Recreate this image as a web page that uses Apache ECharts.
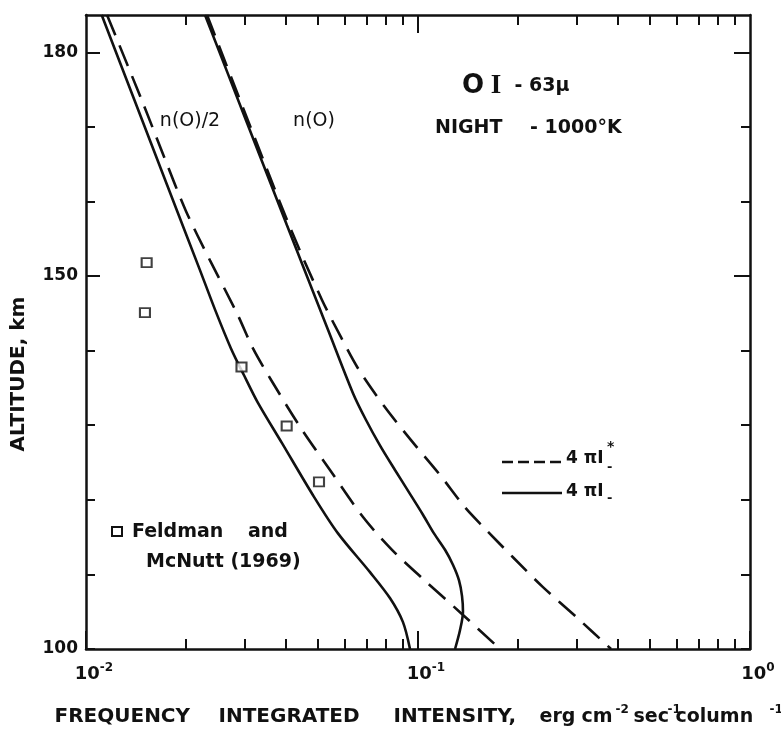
<!DOCTYPE html>
<html><head><meta charset="utf-8">
<script src="https://cdn.jsdelivr.net/npm/echarts@6.0.0/dist/echarts.min.js"></script>
<style>html,body{margin:0;padding:0;background:#fff}#c{width:781px;height:730px}</style>
</head><body><div id="c"></div>
<script>
// ---- data ----
// n(O)/2, solid (4πI-)
const altHalfSolid = [185, 173.6, 162.2, 151.1, 145.4, 140.3, 136.7, 133.0, 127.6, 120.4, 115.5, 110.3, 106.8, 103.6, 100];
const intHalfSolid = [0.01115, 0.01399, 0.01755, 0.02191, 0.02452, 0.02733, 0.02992, 0.03296, 0.03894, 0.04861, 0.05741, 0.07168, 0.0824, 0.0901, 0.09461];
// n(O)/2, dashed (4πI*-)
const altHalfDash = [185, 173.2, 166.0, 158.7, 152.1, 145.0, 140.3, 136.1, 129.8, 124.0, 117.7, 113.3, 109.4, 104.8, 100];
const intHalfDash = [0.01157, 0.01484, 0.01718, 0.02001, 0.02363, 0.02850, 0.03184, 0.03607, 0.04412, 0.05431, 0.06829, 0.0835, 0.1035, 0.1348, 0.1766];
// n(O), solid
const altFullSolid = [185, 170.9, 156.8, 142.8, 134.3, 130.7, 127.3, 124.0, 121.0, 118.0, 115.5, 113.3, 111.3, 109.2, 107.1, 105.0, 102.5, 100];
const intFullSolid = [0.02283, 0.03033, 0.04030, 0.05357, 0.0637, 0.06973, 0.0768, 0.08524, 0.09396, 0.1035, 0.1117, 0.1206, 0.1274, 0.1329, 0.1357, 0.1366, 0.1338, 0.1293];
// n(O), dashed
const altFullDash = [185, 170.5, 156.2, 146.8, 141.8, 137.4, 132.4, 128.0, 123.5, 119.0, 116.4, 112.3, 108.3, 104.2, 100];
const intFullDash = [0.02315, 0.03097, 0.04145, 0.05138, 0.05862, 0.06643, 0.07955, 0.09526, 0.1157, 0.1385, 0.1570, 0.1932, 0.2379, 0.3013, 0.3815];
// Feldman and McNutt (1969)
const obsInt = [0.01523, 0.01505, 0.0294, 0.04022, 0.05033];
const obsAlt = [151.8, 145.1, 137.8, 129.9, 122.4];
// ticks
const yTickValues = [100, 110, 120, 130, 140, 150, 160, 170, 180];
const yLabelValues = [100, 150, 180];
const xMinorTickValues = [0.02, 0.03, 0.04, 0.05, 0.06, 0.07, 0.08, 0.09, 0.2, 0.3, 0.4, 0.5, 0.6, 0.7, 0.8, 0.9];

const INK = '#111';
const FONT = 'DejaVu Sans';
const pairs = (xs, ys) => xs.map((v, i) => [v, ys[i]]);
const logVals = a => a.map(v => Math.log10(v));

const chart = echarts.init(document.getElementById('c'), null, {renderer: 'canvas'});

const lineSeries = (name, xs, ys, dashed) => ({
  name, type: 'line', xAxisIndex: 0, yAxisIndex: 0,
  data: pairs(xs, ys), showSymbol: false, smooth: 0.3, animation: false,
  lineStyle: {color: INK, width: 2.6, type: dashed ? [22, 11] : 'solid'},
  z: 3
});

const hiddenLabel = {show: false};
const noLine = {show: false, onZero: false};
const frameLine = {show: true, onZero: false, lineStyle: {color: INK, width: 2.5}};
const option = {
  backgroundColor: '#fff',
  animation: false,
  grid: {left: 86, right: 31, top: 15, bottom: 81, outerBoundsMode: 'none', containLabel: false},
  xAxis: [
    { // main log axis (bottom)
      type: 'log', logBase: 10, min: 0.01, max: 1, position: 'bottom',
      axisLine: frameLine,
      axisTick: {show: true, inside: true, length: 18, lineStyle: {color: INK, width: 2}},
      splitLine: {show: false},
      axisLabel: {
        margin: 13, padding: [0, 0, 0, 16],
        formatter: v => '{b|10}{s|' + Math.round(Math.log10(v)) + '}',
        rich: {
          b: {fontFamily: FONT, fontSize: 18, fontWeight: 'bold', color: INK, lineHeight: 24},
          s: {fontFamily: FONT, fontSize: 12, fontWeight: 'bold', color: INK, lineHeight: 14, verticalAlign: 'top'}
        }
      },
      name: '{c1|FREQUENCY}{c2|INTEGRATED}{c3|INTENSITY,}{l1|erg}{l2|cm}{s2|-2}{l3|sec}{s1|-1}{l4|column}{s3|-1}',
      nameLocation: 'middle', nameGap: 55,
      nameTextStyle: {
        rich: {
          c1: {fontFamily: FONT, fontSize: 20, fontWeight: 'bold', color: INK, lineHeight: 26, width: 164, align: 'left'},
          c2: {fontFamily: FONT, fontSize: 20, fontWeight: 'bold', color: INK, lineHeight: 26, width: 175, align: 'left'},
          c3: {fontFamily: FONT, fontSize: 20, fontWeight: 'bold', color: INK, lineHeight: 26, width: 146, align: 'left'},
          l1: {fontFamily: FONT, fontSize: 19, fontWeight: 'bold', color: INK, lineHeight: 26, width: 42, align: 'left'},
          l2: {fontFamily: FONT, fontSize: 19, fontWeight: 'bold', color: INK, lineHeight: 26, width: 34, align: 'left'},
          l3: {fontFamily: FONT, fontSize: 19, fontWeight: 'bold', color: INK, lineHeight: 26, width: 34, align: 'left'},
          l4: {fontFamily: FONT, fontSize: 19, fontWeight: 'bold', color: INK, lineHeight: 26, width: 94, align: 'left'},
          s1: {fontFamily: FONT, fontSize: 12, fontWeight: 'bold', color: INK, lineHeight: 14, verticalAlign: 'top', width: 8, align: 'left'},
          s2: {fontFamily: FONT, fontSize: 12, fontWeight: 'bold', color: INK, lineHeight: 14, verticalAlign: 'top', width: 18, align: 'left'},
          s3: {fontFamily: FONT, fontSize: 12, fontWeight: 'bold', color: INK, lineHeight: 14, verticalAlign: 'top', width: 12, align: 'left'}
        }
      }
    },
    { // bottom minor ticks
      type: 'value', min: -2, max: 0, position: 'bottom',
      axisLine: noLine, splitLine: {show: false}, axisLabel: hiddenLabel,
      axisTick: {show: true, inside: true, length: 10, customValues: logVals(xMinorTickValues), lineStyle: {color: INK, width: 2}}
    },
    { // top major tick + frame
      type: 'value', min: -2, max: 0, position: 'top',
      axisLine: frameLine, splitLine: {show: false}, axisLabel: hiddenLabel,
      axisTick: {show: true, inside: true, length: 18, customValues: logVals([0.1]), lineStyle: {color: INK, width: 2}}
    },
    { // top minor ticks
      type: 'value', min: -2, max: 0, position: 'top',
      axisLine: noLine, splitLine: {show: false}, axisLabel: hiddenLabel,
      axisTick: {show: true, inside: true, length: 10, customValues: logVals(xMinorTickValues), lineStyle: {color: INK, width: 2}}
    }
  ],
  yAxis: [
    {
      type: 'value', min: 100, max: 185, position: 'left',
      axisLine: frameLine,
      axisTick: {show: true, inside: true, length: 9, customValues: yTickValues, lineStyle: {color: INK, width: 2}},
      splitLine: {show: false},
      axisLabel: {customValues: yLabelValues, margin: 8, fontFamily: FONT, fontSize: 17, fontWeight: 'bold', color: INK},
      name: 'ALTITUDE, km', nameLocation: 'middle', nameGap: 57, nameRotate: 90,
      nameTextStyle: {fontFamily: FONT, fontSize: 20, fontWeight: 'bold', color: INK, padding: [0, 84, 0, 0]}
    },
    {
      type: 'value', min: 100, max: 185, position: 'left',
      axisLine: noLine, splitLine: {show: false}, axisLabel: hiddenLabel,
      axisTick: {show: true, inside: true, length: 14, customValues: [150, 180], lineStyle: {color: INK, width: 2}}
    },
    {
      type: 'value', min: 100, max: 185, position: 'right',
      axisLine: frameLine, splitLine: {show: false}, axisLabel: hiddenLabel,
      axisTick: {show: true, inside: true, length: 9, customValues: yTickValues, lineStyle: {color: INK, width: 2}}
    },
    {
      type: 'value', min: 100, max: 185, position: 'right',
      axisLine: noLine, splitLine: {show: false}, axisLabel: hiddenLabel,
      axisTick: {show: true, inside: true, length: 16, customValues: [150, 180], lineStyle: {color: INK, width: 2}}
    }
  ],
  series: [
    lineSeries('n(O)/2 4πI-', intHalfSolid, altHalfSolid, false),
    lineSeries('n(O)/2 4πI*-', intHalfDash, altHalfDash, true),
    lineSeries('n(O) 4πI-', intFullSolid, altFullSolid, false),
    lineSeries('n(O) 4πI*-', intFullDash, altFullDash, true),
    {
      name: 'Feldman and McNutt (1969)', type: 'scatter', xAxisIndex: 0, yAxisIndex: 0,
      data: pairs(obsInt, obsAlt), symbol: 'rect', symbolSize: [10, 9],
      itemStyle: {color: '#fff', borderColor: INK, borderWidth: 2}, z: 5
    }
  ],
  graphic: [
    {type: 'text', x: 190, y: 121, style: {text: 'n(O)/2', fontFamily: FONT, fontSize: 19, fill: INK, align: 'center', verticalAlign: 'middle'}},
    {type: 'text', x: 314, y: 121, style: {text: 'n(O)', fontFamily: FONT, fontSize: 19, fill: INK, align: 'center', verticalAlign: 'middle'}},
    {type: 'text', x: 462, y: 86, style: {
      text: '{o|O}{i| I}{m|  - 63μ}', align: 'left', verticalAlign: 'middle',
      rich: {
        o: {fontFamily: FONT, fontSize: 26, fontWeight: 'bold', fill: INK},
        i: {fontFamily: 'Liberation Serif', fontSize: 27, fontWeight: 'bold', fill: INK},
        m: {fontFamily: FONT, fontSize: 19, fontWeight: 'bold', fill: INK}
      }}},
    {type: 'text', x: 435, y: 128, style: {
      text: '{a|NIGHT}{b|- 1000°K}', align: 'left', verticalAlign: 'middle',
      rich: {
        a: {fontFamily: FONT, fontSize: 19, fontWeight: 'bold', fill: INK, width: 95, align: 'left'},
        b: {fontFamily: FONT, fontSize: 19, fontWeight: 'bold', fill: INK}
      }}},
    // legend for line styles
    {type: 'line', shape: {x1: 502, y1: 462, x2: 564, y2: 462}, style: {stroke: INK, lineWidth: 2.5, lineDash: [11, 5]}},
    {type: 'text', x: 566, y: 459, style: {text: '4 πI', fontFamily: FONT, fontSize: 17, fontWeight: 'bold', fill: INK, align: 'left', verticalAlign: 'middle'}},
    {type: 'text', x: 607, y: 447, style: {text: '*', fontFamily: FONT, fontSize: 14, fontWeight: 'bold', fill: INK, align: 'left', verticalAlign: 'middle'}},
    {type: 'text', x: 607, y: 468, style: {text: '-', fontFamily: FONT, fontSize: 13, fontWeight: 'bold', fill: INK, align: 'left', verticalAlign: 'middle'}},
    {type: 'line', shape: {x1: 502, y1: 493, x2: 562, y2: 493}, style: {stroke: INK, lineWidth: 2.5}},
    {type: 'text', x: 566, y: 492, style: {text: '4 πI', fontFamily: FONT, fontSize: 17, fontWeight: 'bold', fill: INK, align: 'left', verticalAlign: 'middle'}},
    {type: 'text', x: 607, y: 499, style: {text: '-', fontFamily: FONT, fontSize: 13, fontWeight: 'bold', fill: INK, align: 'left', verticalAlign: 'middle'}},
    // legend for data points
    {type: 'rect', shape: {x: 112, y: 527, width: 10, height: 9}, style: {fill: '#fff', stroke: INK, lineWidth: 2}},
    {type: 'text', x: 132, y: 532, style: {
      text: '{f|Feldman}{a|and}', align: 'left', verticalAlign: 'middle',
      rich: {
        f: {fontFamily: FONT, fontSize: 19, fontWeight: 'bold', fill: INK, width: 116, align: 'left'},
        a: {fontFamily: FONT, fontSize: 19, fontWeight: 'bold', fill: INK}
      }}},
    {type: 'text', x: 146, y: 562, style: {text: 'McNutt (1969)', fontFamily: FONT, fontSize: 19, fontWeight: 'bold', fill: INK, align: 'left', verticalAlign: 'middle'}}
  ]
};
chart.setOption(option);
</script>
</body></html>
